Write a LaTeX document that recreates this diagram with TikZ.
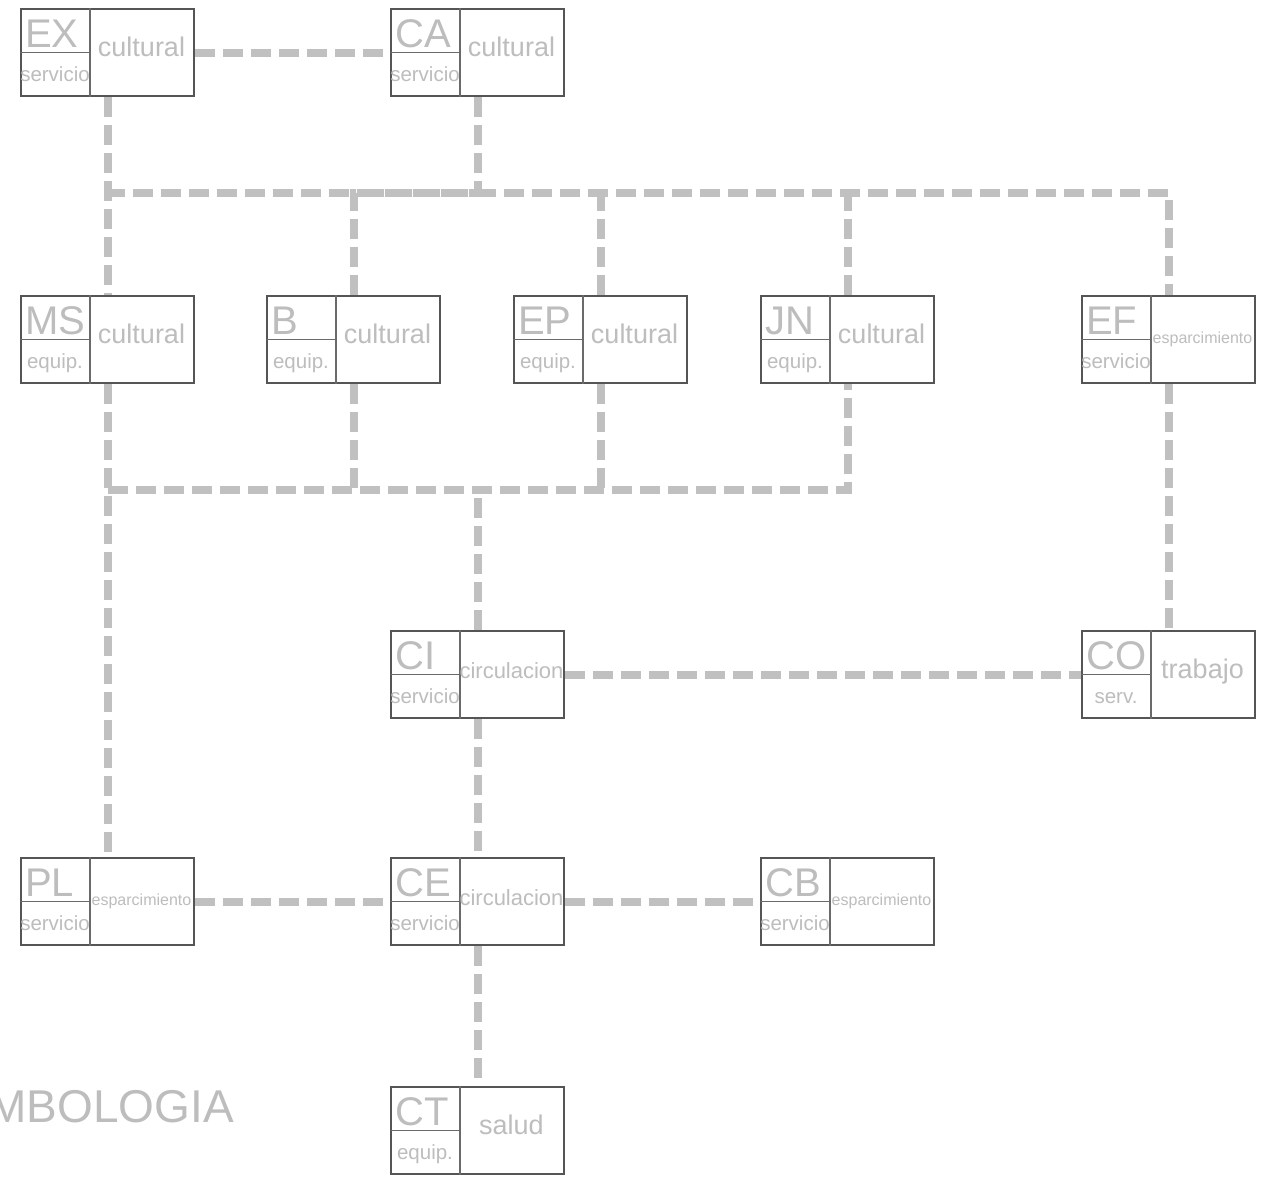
\documentclass[tikz,border=0pt]{standalone}
\usepackage{fontspec}
\setmainfont{Liberation Sans}
\usetikzlibrary{backgrounds}
\definecolor{txtgray}{HTML}{BDBDBD}
\definecolor{linegray}{HTML}{C0C0C0}
\definecolor{boxgray}{HTML}{555555}
\definecolor{inngray}{HTML}{6A6A6A}
\tikzset{
  ubox/.style={draw=boxgray, line width=2.4pt, fill=white, rectangle, minimum width=173pt, minimum height=87pt, inner sep=0pt},
  inl/.style={draw=inngray, line width=1.3pt},
  codetxt/.style={anchor=base west, inner sep=0pt, text=txtgray, font=\fontsize{40}{40}\selectfont},
  subtxt/.style={anchor=base, inner sep=0pt, text=txtgray, font=\fontsize{20.5}{20.5}\selectfont},
  typetxt/.style={anchor=base, inner sep=0pt, text=txtgray},
  conn/.style={draw=linegray, line width=8pt, dash pattern=on 20pt off 8pt},
}
\newcommand\ubox[7]{%
  \node[ubox, anchor=north west] (#1) at (#2,#3) {};
  \draw[inl] ([xshift=70pt]#1.north west) -- ([xshift=70pt]#1.south west);
  \draw[inl] (#1.west) -- ([xshift=70pt]#1.west);
  \node[codetxt] (#1-c) at ([xshift=5pt,yshift=-39pt]#1.north west) {#4};
  \node[subtxt] (#1-s) at ([xshift=35pt,yshift=-73pt]#1.north west) {#5};
  \node[typetxt, font=\fontsize{#7}{#7}\selectfont] (#1-t) at ([xshift=121.5pt,yshift=-48pt]#1.north west) {#6};
}
\begin{document}
\begin{tikzpicture}[x=1pt,y=-1pt]
\useasboundingbox (0,0) rectangle (1277,1178);
\clip (0,0) rectangle (1277,1178);
\ubox{EX}{20}{8}{EX}{servicio}{cultural}{27}
\ubox{CA}{390}{8}{CA}{servicio}{cultural}{27}
\ubox{MS}{20}{295}{MS}{equip.}{cultural}{27}
\ubox{B}{266}{295}{B}{equip.}{cultural}{27}
\ubox{EP}{513}{295}{EP}{equip.}{cultural}{27}
\ubox{JN}{760}{295}{JN}{equip.}{cultural}{27}
\ubox{EF}{1081}{295}{EF}{servicio}{esparcimiento}{16}
\ubox{CI}{390}{630}{CI}{servicio}{circulacion}{22}
\ubox{CO}{1081}{630}{CO}{serv.}{trabajo}{27}
\ubox{PL}{20}{857}{PL}{servicio}{esparcimiento}{16}
\ubox{CE}{390}{857}{CE}{servicio}{circulacion}{22}
\ubox{CB}{760}{857}{CB}{servicio}{esparcimiento}{16}
\ubox{CT}{390}{1086}{CT}{equip.}{salud}{27}
\node[anchor=base east, inner sep=0pt, text=txtgray, font=\fontsize{46}{46}\selectfont] (simb) at (234,1122) {SIMBOLOGIA};
\coordinate (jt) at (0,193);
\coordinate (jb) at (0,490);
\begin{scope}[on background layer]
  \draw[conn] (EX.east) -- (CA.west);
  \draw[conn] (EX.south) -- (MS.north);
  \draw[conn] (CA.south) -- (CA.south |- jt) -- (EX.south |- jt);
  \draw[conn] (B.north) -- (B.north |- jt) -- (EF.north |- jt) -- (EF.north);
  \draw[conn] (EP.north) -- (EP.north |- jt);
  \draw[conn] (JN.north) -- (JN.north |- jt);
  \draw[conn] (MS.south) -- (PL.north);
  \draw[conn] (MS.south |- jb) -- (JN.south |- jb) -- (JN.south);
  \draw[conn] (B.south) -- (B.south |- jb);
  \draw[conn] (EP.south) -- (EP.south |- jb);
  \draw[conn] (CI.north) -- (CI.north |- jb);
  \draw[conn] (EF.south) -- (CO.north);
  \draw[conn] (CI.east) -- (CO.west);
  \draw[conn] (CI.south) -- (CE.north);
  \draw[conn] (PL.east) -- (CE.west);
  \draw[conn] (CE.east) -- (CB.west);
  \draw[conn] (CE.south) -- (CT.north);
\end{scope}
\end{tikzpicture}
\end{document}
